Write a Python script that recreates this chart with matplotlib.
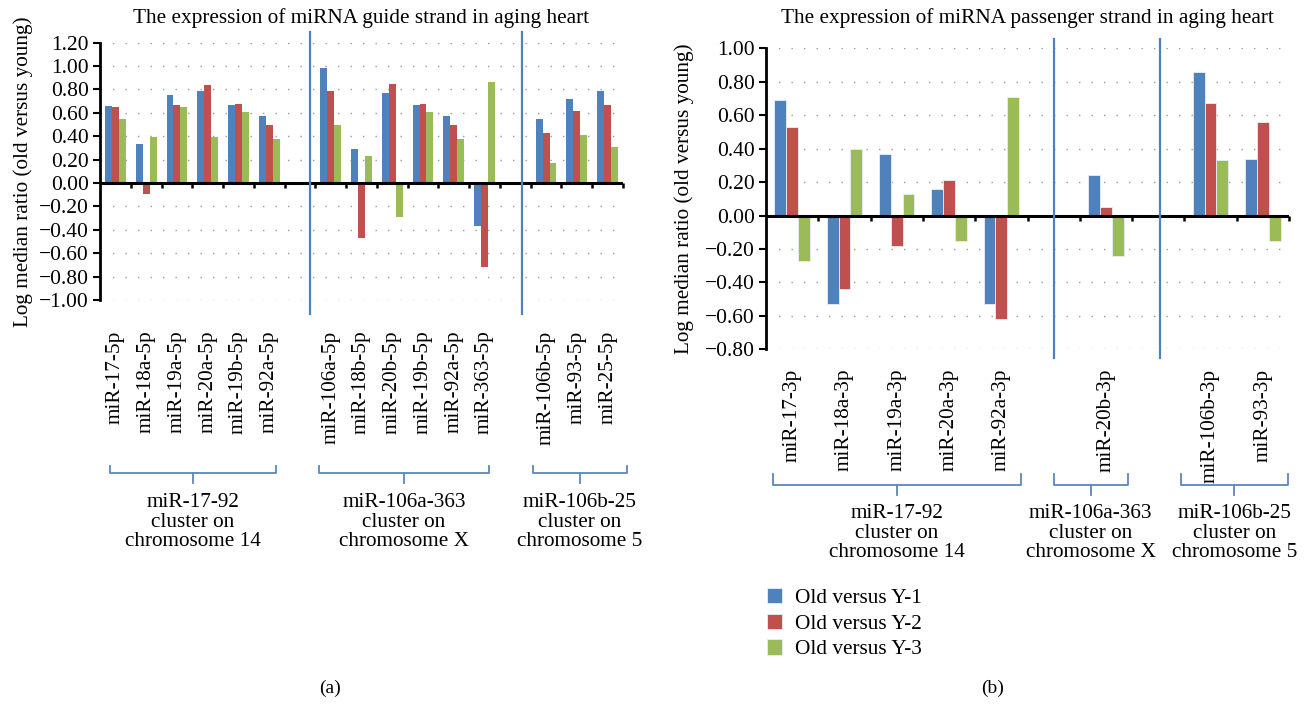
import numpy as np
import matplotlib
matplotlib.use('Agg')
from matplotlib import pyplot as plt

plt.rcParams['font.family'] = ['Liberation Serif', 'DejaVu Serif']

# Data
series = ['Old versus Y-1', 'Old versus Y-2', 'Old versus Y-3']
colors = ['#4F81BD', '#C0504D', '#9BBB59']

guide_labels = ['miR-17-5p', 'miR-18a-5p', 'miR-19a-5p', 'miR-20a-5p', 'miR-19b-5p', 'miR-92a-5p', '',
                'miR-106a-5p', 'miR-18b-5p', 'miR-20b-5p', 'miR-19b-5p', 'miR-92a-5p', 'miR-363-5p', '',
                'miR-106b-5p', 'miR-93-5p', 'miR-25-5p']
guide_y1 = [0.66, 0.33, 0.75, 0.79, 0.67, 0.57, np.nan, 0.98, 0.29, 0.77, 0.67, 0.57, -0.37, np.nan, 0.55, 0.72, 0.79]
guide_y2 = [0.65, -0.09, 0.67, 0.84, 0.68, 0.50, np.nan, 0.79, -0.47, 0.85, 0.68, 0.50, -0.72, np.nan, 0.43, 0.62, 0.67]
guide_y3 = [0.55, 0.39, 0.65, 0.39, 0.61, 0.38, np.nan, 0.50, 0.23, -0.29, 0.61, 0.38, 0.86, np.nan, 0.17, 0.41, 0.31]

passenger_labels = ['miR-17-3p', 'miR-18a-3p', 'miR-19a-3p', 'miR-20a-3p', 'miR-92a-3p', '',
                    'miR-20b-3p', '', 'miR-106b-3p', 'miR-93-3p']
passenger_y1 = [0.69, -0.53, 0.37, 0.16, -0.53, np.nan, 0.24, np.nan, 0.86, 0.34]
passenger_y2 = [0.53, -0.44, -0.18, 0.21, -0.62, np.nan, 0.05, np.nan, 0.67, 0.56]
passenger_y3 = [-0.27, 0.40, 0.13, -0.15, 0.71, np.nan, -0.24, np.nan, 0.33, -0.15]

cluster_names = ['miR-17-92\ncluster on\nchromosome 14',
                 'miR-106a-363\ncluster on\nchromosome X',
                 'miR-106b-25\ncluster on\nchromosome 5']

# Layout (bracket spans and separators in category units)
guide_brackets = [(-0.18, 5.21), (6.61, 12.16), (13.56, 16.64)]
guide_seps = [6.32, 13.23]
passenger_brackets = [(-0.37, 4.38), (5.0, 6.42), (7.43, 9.48)]
passenger_seps = [5.01, 7.03]

FS = 15.3


def fmt(v):
    s = '{:.2f}'.format(abs(v))
    return ('\u2212' + s) if v < -1e-9 else s


def draw_panel(ax, labels, vals, ylim, yticks, title, title_pad, label_pad, ylabel_pad,
               brackets, seps, sep_span, br_y, edge):
    x = np.arange(len(labels))
    w = 0.225
    for i, (v, c) in enumerate(zip(vals, colors)):
        ax.bar(x + (i - 1) * w, v, w, color=c, label=series[i], zorder=3,
               edgecolor=edge, linewidth=0.6 if edge != 'none' else 0)
    ax.set_xlim(-0.5, len(labels) - 0.5)
    ax.set_ylim(*ylim)
    ax.set_yticks(yticks)
    ax.set_yticklabels([fmt(t) for t in yticks], fontsize=15.5)
    ax.tick_params(axis='y', direction='out', length=5, width=1.5, pad=3)
    ax.set_xticks(x)
    ax.set_xticklabels(labels, rotation=90, fontsize=FS, va='top')
    ax.tick_params(axis='x', length=0, pad=label_pad)
    for s in ['top', 'right', 'bottom']:
        ax.spines[s].set_visible(False)
    ax.spines['left'].set_linewidth(2)
    ax.yaxis.grid(True, linestyle=(0, (1, 8)), color='#9a9a9a', linewidth=1)
    ax.set_axisbelow(True)
    ax.set_title(title, fontsize=FS, pad=title_pad)
    ax.set_ylabel('Log median ratio (old versus young)', fontsize=FS, labelpad=ylabel_pad)

    # zero line with small ticks at the category boundaries
    ax.axhline(0, color='black', lw=2.2, zorder=3.5)
    tick_len = 5 / ax.bbox.height * (ylim[1] - ylim[0])
    ax.vlines(x + 0.5, -tick_len, 0, color='black', lw=1.8, zorder=3.5, clip_on=False)

    tr = ax.get_xaxis_transform()
    for sx in seps:
        ax.plot([sx, sx], sep_span, color='#4F81BD', lw=1.6, transform=tr, clip_on=False, zorder=4)

    y0, ytip, ybot, ytxt = br_y
    for (a, b), name in zip(brackets, cluster_names):
        m = (a + b) / 2
        ax.plot([a, a, b, b], [ytip, y0, y0, ytip], color='#5b86bf', lw=1.3,
                transform=tr, clip_on=False)
        ax.plot([m, m], [y0, ybot], color='#5b86bf', lw=1.3, transform=tr, clip_on=False)
        ax.text(m, ytxt, name, transform=tr, ha='center', va='top', fontsize=FS,
                linespacing=1.05)


fig = plt.figure(figsize=(13.09, 7.04), dpi=100)
ax1 = fig.add_axes([100 / 1309, 1 - 300 / 704, 523 / 1309, 257.3 / 704])
ax2 = fig.add_axes([766 / 1309, 1 - 349.3 / 704, 523 / 1309, 301 / 704])

draw_panel(ax1, guide_labels, [guide_y1, guide_y2, guide_y3], (-1.0, 1.2),
           np.round(np.arange(-1.0, 1.21, 0.2), 2),
           'The expression of miRNA guide strand in aging heart', 14, 22, 4,
           guide_brackets, guide_seps, [-0.054, 1.042],
           (-0.672, -0.645, -0.711, -0.75), 'none')

draw_panel(ax2, passenger_labels, [passenger_y1, passenger_y2, passenger_y3], (-0.8, 1.0),
           np.round(np.arange(-0.8, 1.01, 0.2), 2),
           'The expression of miRNA passenger strand in aging heart', 18, 14, 8,
           passenger_brackets, passenger_seps, [-0.029, 1.031],
           (-0.451, -0.414, -0.484, -0.514), '#e8eef7')

ax2.legend(loc='upper left', bbox_to_anchor=(-0.035, -0.728), frameon=False, fontsize=FS,
           handlelength=0.72, handleheight=0.72, handletextpad=0.6, labelspacing=0.28)

fig.text(330 / 1309, 1 - 688 / 704, '(a)', ha='center', va='center', fontsize=14)
fig.text(993 / 1309, 1 - 688 / 704, '(b)', ha='center', va='center', fontsize=14)

fig.savefig('out.png', dpi=100)
